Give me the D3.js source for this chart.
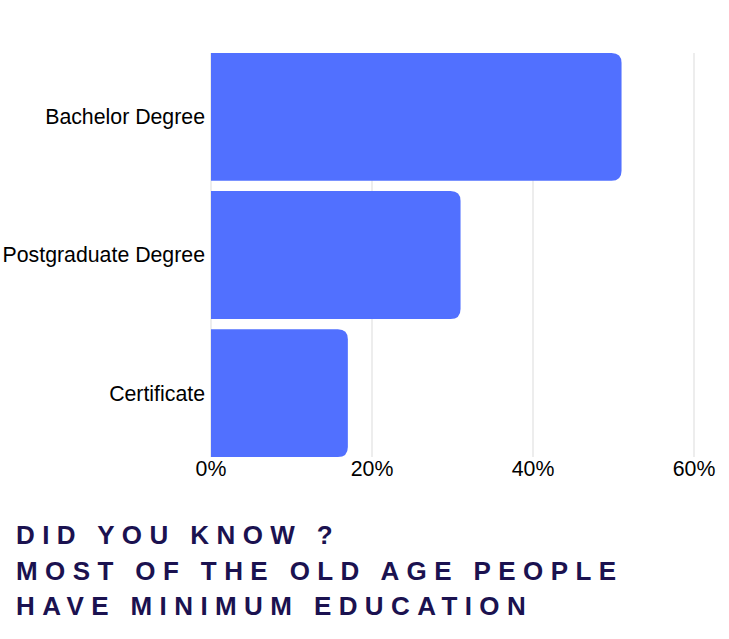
<!DOCTYPE html>
<html>
<head>
<meta charset="utf-8">
<script src="https://cdn.jsdelivr.net/npm/d3@7"></script>
<style>
  body { margin: 0; background: #fff; }
  svg { display: block; font-family: "Liberation Sans", Arial, sans-serif; }
</style>
</head>
<body>
<svg id="chart" width="729" height="639"></svg>
<script>
// chart data
var categories = ["Bachelor Degree", "Postgraduate Degree", "Certificate"];
var shares = [51, 31, 17];
var tick_values = [0, 20, 40, 60];
var note_lines = ["DID YOU KNOW ?", "MOST OF THE OLD AGE PEOPLE", "HAVE MINIMUM EDUCATION"];

var svg = d3.select("#chart");

var bar_color = "#5170ff";
var note_color = "#1b1250";

// scales
var x = d3.scaleLinear().domain([0, 60]).range([211, 694]);
var y = d3.scaleBand().domain(categories).range([53, 457]).paddingInner(0.075).paddingOuter(0);

// grid lines
svg.append("g")
    .selectAll("line")
    .data(tick_values)
    .join("line")
    .attr("x1", d => x(d)).attr("x2", d => x(d))
    .attr("y1", 53).attr("y2", 457)
    .attr("stroke", "#e3e3e3")
    .attr("stroke-width", 1.3);

// bars: square left edge, rounded right end
var r = 10;
function bar_path(x0, x1, y0, h) {
    var rr = Math.min(r, (x1 - x0) / 2);
    return "M" + x0 + "," + y0 +
        "H" + (x1 - rr) +
        "Q" + x1 + "," + y0 + " " + x1 + "," + (y0 + rr) +
        "V" + (y0 + h - rr) +
        "Q" + x1 + "," + (y0 + h) + " " + (x1 - rr) + "," + (y0 + h) +
        "H" + x0 + "Z";
}

svg.append("g")
    .selectAll("path")
    .data(shares)
    .join("path")
    .attr("d", (d, i) => bar_path(x(0), x(d), y(categories[i]), y.bandwidth()))
    .attr("fill", bar_color);

// category labels
svg.append("g")
    .selectAll("text")
    .data(categories)
    .join("text")
    .attr("x", 205)
    .attr("y", d => y(d) + y.bandwidth() / 2)
    .attr("dy", "0.35em")
    .attr("text-anchor", "end")
    .attr("font-size", "21.3px")
    .attr("fill", "#000")
    .text(d => d);

// tick labels
svg.append("g")
    .selectAll("text")
    .data(tick_values)
    .join("text")
    .attr("x", d => x(d))
    .attr("y", 469)
    .attr("dy", "0.35em")
    .attr("text-anchor", "middle")
    .attr("font-size", "21.3px")
    .attr("fill", "#000")
    .text(d => d + "%");

// note text
svg.append("g")
    .selectAll("text")
    .data(note_lines)
    .join("text")
    .attr("x", 16)
    .attr("y", (d, i) => 544 + i * 35.5)
    .attr("font-size", "26px")
    .attr("font-weight", "bold")
    .attr("letter-spacing", "7.4px")
    .attr("fill", note_color)
    .text(d => d);
</script>
</body>
</html>
